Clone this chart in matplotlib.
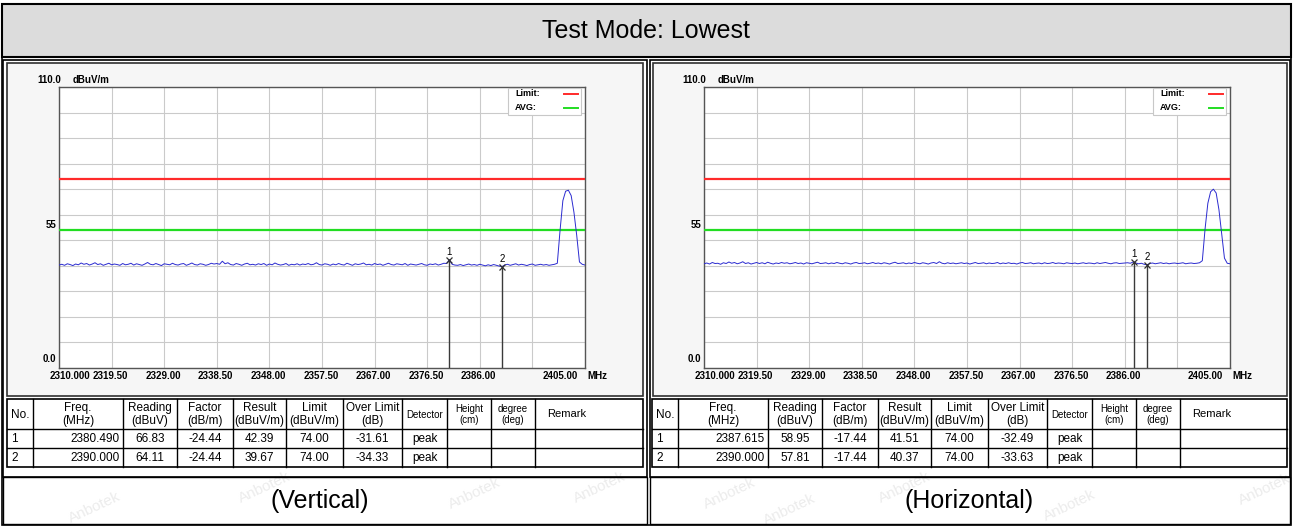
import numpy as np
import matplotlib
matplotlib.use('Agg')
import matplotlib.pyplot as plt
from matplotlib.patches import Rectangle
from matplotlib.lines import Line2D

plt.rcParams['font.family'] = ['Liberation Sans', 'DejaVu Sans']

W, H = 1293, 527

# ---- data ----
title = 'Test Mode: Lowest'
panel_names = ['(Vertical)', '(Horizontal)']

x_ticks = [2310.0, 2319.5, 2329.0, 2338.5, 2348.0, 2357.5, 2367.0, 2376.5, 2386.0, 2395.5, 2405.0]
x_tick_labels = ['2310.000', '2319.50', '2329.00', '2338.50', '2348.00', '2357.50',
                 '2367.00', '2376.50', '2386.00', '', '2405.00']
limit_peak = 74.0
limit_avg = 54.0

# trace sampled every 0.5 MHz from 2310 to 2405
trace_freq = np.arange(2310.0, 2405.01, 0.5)
vert_level = [
    40.3, 40.6, 40.2, 40.8, 40.5, 40.1, 40.7, 40.4, 41.1, 40.6,
    40.9, 40.3, 40.7, 41.2, 40.5, 40.8, 40.2, 40.6, 41.0, 40.4,
    40.7, 40.5, 40.2, 40.9, 40.4, 40.6, 41.0, 40.3, 40.8, 40.5,
    40.2, 40.7, 41.3, 40.6, 40.4, 40.9, 40.5, 40.1, 40.8, 40.6,
    40.4, 41.0, 40.5, 40.3, 40.7, 40.9, 40.2, 40.6, 41.1, 40.5,
    40.3, 40.8, 40.6, 40.2, 40.5, 41.0, 40.7, 40.9, 40.6, 41.8,
    40.8, 41.2, 40.5, 40.3, 40.9, 40.6, 40.2, 40.7, 41.0, 40.4,
    40.6, 40.3, 40.8, 40.5, 40.9, 40.2, 40.7, 40.4, 41.1, 40.6,
    40.3, 40.5, 40.9, 40.2, 40.6, 40.4, 40.8, 40.3, 40.7, 40.5,
    40.9, 40.4, 40.6, 41.2, 40.5, 40.3, 40.8, 40.6, 40.2, 40.7,
    40.4, 40.9, 40.5, 40.3, 41.0, 40.6, 40.2, 40.8, 40.5, 40.7,
    41.1, 40.4, 40.6, 40.3, 40.9, 40.5, 40.7, 40.2, 40.6, 41.0,
    40.5, 40.3, 40.8, 40.6, 40.4, 40.9, 40.2, 40.7, 40.5, 40.3,
    40.6, 40.9, 40.4, 40.2, 40.7, 40.5, 40.8, 40.3, 40.6, 41.0,
    40.9, 42.4, 40.6, 40.3, 40.2, 40.5, 40.1, 40.4, 40.7, 40.3,
    40.5, 40.2, 40.6, 40.3, 40.0, 40.4, 40.1, 40.5, 40.2, 39.9,
    39.7, 40.3, 40.6, 40.2, 40.5, 40.8, 40.3, 40.6, 40.4, 40.1,
    40.5, 40.7, 40.2, 40.4, 40.6, 40.3, 40.5, 40.2, 40.4, 40.6,
    41.0, 54.0, 65.5, 69.2, 69.6, 67.5, 61.0, 52.0, 41.5, 40.6, 40.3,
]
horz_level = [
    40.8, 41.1, 40.7, 41.3, 40.9, 41.0, 40.6, 41.2, 40.9, 41.5,
    41.0, 41.3, 40.8, 41.1, 41.6, 40.9, 41.2, 40.7, 41.0, 41.3,
    40.9, 41.2, 40.8, 41.4, 41.0, 40.7, 41.1, 40.9, 41.3, 41.0,
    41.2, 40.8, 41.0, 41.3, 40.9, 41.1, 40.7, 41.2, 41.0, 40.8,
    41.1, 41.4, 40.9, 41.0, 41.2, 40.8, 41.1, 40.9, 41.3, 41.0,
    40.8, 41.2, 41.0, 40.7, 41.1, 41.3, 40.9, 41.0, 41.2, 40.8,
    41.0, 41.3, 40.9, 41.1, 40.8, 41.2, 41.0, 40.7, 41.1, 41.4,
    40.9, 41.0, 41.2, 40.8, 41.1, 40.9, 41.3, 41.0, 40.8, 41.2,
    41.0, 40.7, 41.1, 41.3, 40.9, 41.6, 41.0, 40.8, 41.2, 40.9,
    41.1, 40.8, 41.0, 41.2, 40.9, 41.1, 40.7, 41.0, 41.3, 40.9,
    41.0, 41.2, 40.8, 41.1, 40.9, 41.0, 41.3, 40.8, 41.1, 40.9,
    41.2, 40.9, 41.0, 40.7, 41.1, 41.3, 40.9, 41.0, 41.2, 40.8,
    41.0, 41.1, 40.8, 41.2, 40.9, 41.0, 41.3, 40.9, 41.1, 41.0,
    40.8, 41.2, 41.0, 40.9, 41.1, 40.8, 41.0, 41.2, 40.9, 41.1,
    41.0, 40.8, 41.2, 40.9, 41.1, 41.3, 41.0, 40.8, 41.1, 41.2,
    40.9, 41.0, 41.1, 41.2, 41.0, 41.5, 41.1, 40.8, 41.0, 40.6,
    40.4, 40.9, 41.1, 40.8, 41.0, 41.2, 40.9, 41.1, 40.8, 41.0,
    41.1, 40.9, 41.0, 41.2, 40.8, 41.0, 41.1, 40.9, 41.0, 41.2,
    42.0, 54.5, 64.5, 69.0, 70.0, 68.5, 62.0, 52.5, 43.0, 41.0, 40.8,
]

# marker tables
table_header = ['No.', 'Freq.\n(MHz)', 'Reading\n(dBuV)', 'Factor\n(dB/m)', 'Result\n(dBuV/m)',
                'Limit\n(dBuV/m)', 'Over Limit\n(dB)', 'Detector', 'Height\n(cm)', 'degree\n(deg)', 'Remark']
vert_freq = [2380.490, 2390.000]
vert_reading = [66.83, 64.11]
vert_factor = [-24.44, -24.44]
vert_result = [42.39, 39.67]
vert_over = [-31.61, -34.33]
horz_freq = [2387.615, 2390.000]
horz_reading = [58.95, 57.81]
horz_factor = [-17.44, -17.44]
horz_result = [41.51, 40.37]
horz_over = [-32.49, -33.63]
detector = ['peak', 'peak']


def frac(x0, y0, x1, y1):
    return [x0 / W, 1 - y1 / H, (x1 - x0) / W, (y1 - y0) / H]


fig = plt.figure(figsize=(W / 100, H / 100), dpi=100)
fig.patch.set_facecolor('white')

bg = fig.add_axes([0, 0, 1, 1])
bg.set_xlim(0, W)
bg.set_ylim(H, 0)
bg.axis('off')


def box(x0, y0, x1, y1, fc='none', ec='black', lw=1.0, z=1):
    bg.add_patch(Rectangle((x0, y0), x1 - x0, y1 - y0, facecolor=fc, edgecolor=ec, lw=lw, zorder=z))


# outer frame + header
box(1.5, 3.5, 1291, 525, lw=1.2)
box(2, 4, 1291, 57, fc='#dcdcdc', lw=1.5)
bg.text(646, 31, title, ha='center', va='center', fontsize=18)

# panel cells
for cx0, cx1 in [(3, 647), (650, 1290)]:
    box(cx0, 60, cx1, 477, lw=1.2)
    box(cx0, 477, cx1, 524, lw=1.0)

# plot image frames
box(7, 63, 643, 396, fc='#f6f6f6', ec='#303030', lw=1.2)
box(653, 63, 1287, 396, fc='#f6f6f6', ec='#303030', lw=1.2)

bg.text(320, 501, panel_names[0], ha='center', va='center', fontsize=18)
bg.text(969, 501, panel_names[1], ha='center', va='center', fontsize=18)


def draw_table(tx0, tx1, freq, reading, factor, result, over):
    widths = [26, 90, 54, 56, 53, 57, 59, 45, 44, 44]
    edges = [tx0]
    for w in widths:
        edges.append(edges[-1] + w)
    edges.append(tx1)
    rows = [399, 429, 448, 467]
    box(tx0, rows[0], tx1, rows[-1], lw=1.2, z=2)
    for y in rows[1:-1]:
        bg.plot([tx0, tx1], [y, y], color='black', lw=1, zorder=2)
    for x in edges[1:-1]:
        bg.plot([x, x], [rows[0], rows[-1]], color='black', lw=1, zorder=2)
    # header
    for i, lab in enumerate(table_header):
        cx = (edges[i] + edges[i + 1]) / 2
        fs = 7 if lab.startswith(('Detector', 'Height', 'degree')) else 8.5
        if lab == 'Remark':
            bg.text(edges[i] + 12, (rows[0] + rows[1]) / 2, lab, ha='left', va='center', fontsize=8)
        else:
            bg.text(cx, (rows[0] + rows[1]) / 2 + 0.5, lab, ha='center', va='center',
                    fontsize=fs, linespacing=1.05)
    for r in range(2):
        cy = (rows[r + 1] + rows[r + 2]) / 2 + 0.5
        cells = ['%d' % (r + 1), '%.3f' % freq[r], '%.2f' % reading[r], '%.2f' % factor[r],
                 '%.2f' % result[r], '%.2f' % limit_peak, '%.2f' % over[r], detector[r]]
        bg.text(edges[0] + 4, cy, cells[0], ha='left', va='center', fontsize=8.5)
        bg.text(edges[2] - 3, cy, cells[1], ha='right', va='center', fontsize=8.5)
        for c in range(2, 8):
            bg.text((edges[c] + edges[c + 1]) / 2, cy, cells[c], ha='center', va='center', fontsize=8.5)


draw_table(7, 643, vert_freq, vert_reading, vert_factor, vert_result, vert_over)
draw_table(652, 1287, horz_freq, horz_reading, horz_factor, horz_result, horz_over)


def draw_panel(x0, levels, mk_freq, mk_level):
    aw, ah = 526, 281
    ax = fig.add_axes(frac(x0, 87, x0 + aw, 87 + ah))
    ax.set_xlim(2310, 2405)
    ax.set_ylim(0, 110)
    ax.set_facecolor('white')
    ax.set_xticks(x_ticks)
    ax.set_yticks(np.arange(0, 111, 10))
    ax.set_axisbelow(True)
    ax.grid(color='#cacaca', lw=0.8)
    ax.tick_params(length=0, labelleft=False, labelbottom=False)
    for sp in ax.spines.values():
        sp.set_color('#555555')
        sp.set_linewidth(1.0)

    ax.axhline(limit_peak, color='#ff2a2a', lw=1.6, zorder=3)
    ax.axhline(limit_avg, color='#22dd22', lw=1.6, zorder=3)
    ax.plot(trace_freq, levels, color='#2b2bd0', lw=0.7, zorder=4)

    # markers
    ax.vlines(mk_freq, 0, mk_level, color='#3a3a3a', lw=1, zorder=5)
    ax.plot(mk_freq, mk_level, 'x', color='#303030', ms=4.5, mew=0.9, zorder=6)
    for i, (f, l) in enumerate(zip(mk_freq, mk_level)):
        ax.annotate(str(i + 1), (f, l), xytext=(0, 3), textcoords='offset pixels',
                    ha='center', va='bottom', fontsize=7, zorder=6)

    # x tick labels
    xtr = ax.get_xaxis_transform()
    for i, (f, lab) in enumerate(zip(x_ticks, x_tick_labels)):
        if not lab:
            continue
        ha, dx = 'center', -1
        if i == 0:
            ha, dx = 'left', -9
        elif i == len(x_ticks) - 1:
            ha, dx = 'right', -7
        ax.annotate(lab, (f, 0), xycoords=xtr, xytext=(dx, -3), textcoords='offset pixels',
                    ha=ha, va='top', fontsize=7, fontweight='bold', annotation_clip=False)
    ax.annotate('MHz', (2405, 0), xycoords=xtr, xytext=(2, -3), textcoords='offset pixels',
                ha='left', va='top', fontsize=7, fontweight='bold', annotation_clip=False)

    # y labels
    ytr = ax.get_yaxis_transform()
    ax.annotate('110.0', (0, 110), xycoords=ytr, xytext=(2, 7), textcoords='offset pixels',
                ha='right', va='center', fontsize=7, fontweight='bold', annotation_clip=False)
    ax.annotate('dBuV/m', (0, 110), xycoords=ytr, xytext=(14, 7), textcoords='offset pixels',
                ha='left', va='center', fontsize=7, fontweight='bold', annotation_clip=False)
    ax.annotate('55', (0, 55), xycoords=ytr, xytext=(-3, 2), textcoords='offset pixels',
                ha='right', va='center', fontsize=7, fontweight='bold', annotation_clip=False)
    ax.annotate('0.0', (0, 0), xycoords=ytr, xytext=(-3, 9), textcoords='offset pixels',
                ha='right', va='center', fontsize=7, fontweight='bold', annotation_clip=False)

    # legend box (top right)
    def ap(px, py):
        return (px / aw, 1 - py / ah)
    lx0, ly0 = ap(aw - 77, 1)
    ax.add_patch(Rectangle((lx0, ly0 - 27 / ah), 73 / aw, 27 / ah, transform=ax.transAxes,
                           facecolor='white', edgecolor='#c8c8c8', lw=0.8, zorder=7))
    for j, (lab, col) in enumerate([('Limit:', '#ff2a2a'), ('AVG:', '#22dd22')]):
        ty = 7 + j * 14
        ax.text(*ap(aw - 70, ty), lab, transform=ax.transAxes, ha='left', va='center',
                fontsize=6.5, fontweight='bold', zorder=8)
        p0, p1 = ap(aw - 21, ty), ap(aw - 7, ty)
        ax.add_line(Line2D([p0[0], p1[0]], [p0[1], p1[1]], transform=ax.transAxes,
                           color=col, lw=1.4, zorder=8))
    return ax


draw_panel(59, vert_level, vert_freq, vert_result)
draw_panel(704, horz_level, horz_freq, horz_result)

# faint watermark
for wx, wy in [(95, 508), (265, 488), (475, 494), (600, 488), (730, 494), (790, 510),
               (905, 488), (1070, 506), (1265, 490)]:
    bg.text(wx, wy, 'Anbotek', color='#ececec', fontsize=11, rotation=25,
            ha='center', va='center', zorder=0.5)

fig.savefig('out.png', dpi=100)
